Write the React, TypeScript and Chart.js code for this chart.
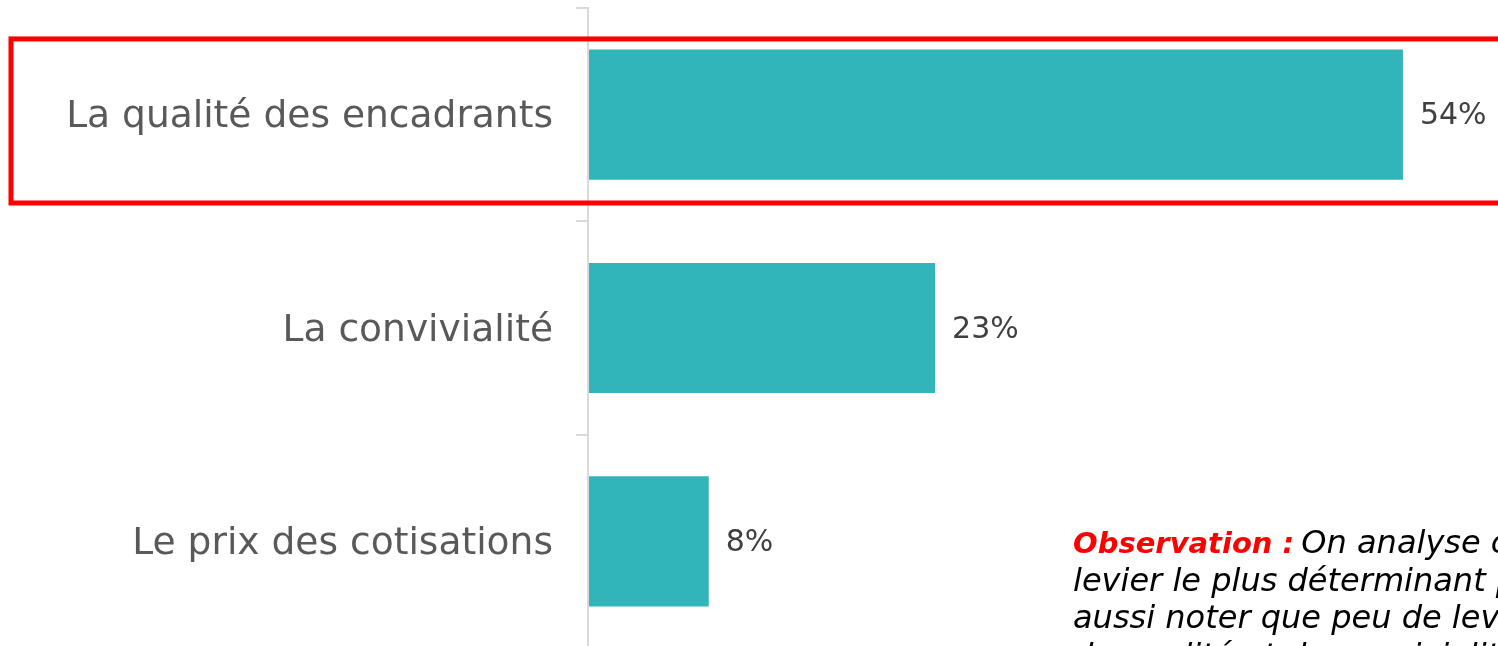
import React, { useEffect, useRef } from "react";
import { Chart, registerables } from "chart.js";

Chart.register(...registerables);

const categories = ["La qualité des encadrants", "La convivialité", "Le prix des cotisations"];
const values = [54, 23, 8];
const valueLabels = ["54%", "23%", "8%"];
const observationTitle = "Observation :";
const observationLines = [
  " On analyse clairement que la qualité des encadrants est le",
  "levier le plus déterminant pour le choix d'un club. On peut",
  "aussi noter que peu de leviers sont cités en dehors de",
  "de qualité et de convivialité.",
];

const FONT = "'DejaVu Sans', sans-serif";
const BAR_COLOR = "#32B4BB";

const valueLabelPlugin = {
  id: "valueLabels",
  afterDatasetsDraw(chart: any) {
    const ctx = chart.ctx;
    const meta = chart.getDatasetMeta(0);
    ctx.save();
    ctx.font = `30px ${FONT}`;
    ctx.fillStyle = "#404040";
    ctx.textAlign = "left";
    ctx.textBaseline = "middle";
    meta.data.forEach((bar: any, i: number) => {
      ctx.fillText(valueLabels[i], bar.x + 17, bar.y + 2);
    });
    ctx.restore();
  },
};

const annotationPlugin = {
  id: "annotations",
  afterDraw(chart: any) {
    const ctx = chart.ctx;
    const y = chart.scales.y;
    const c = y.getPixelForValue(0);
    const band = y.getPixelForValue(1) - c;
    const top = c - 0.355 * band;
    const bottom = c + 0.414 * band;
    ctx.save();
    ctx.strokeStyle = "#FF0000";
    ctx.lineWidth = 5;
    ctx.strokeRect(11, top, chart.width + 40, bottom - top);

    // Observation text
    const x0 = 1073;
    const y0 = 553;
    const lh = 37.5;
    ctx.textBaseline = "alphabetic";
    ctx.textAlign = "left";
    ctx.font = `italic bold 29px ${FONT}`;
    ctx.fillStyle = "#FF0000";
    ctx.fillText(observationTitle, x0, y0);
    const tw = ctx.measureText(observationTitle).width;
    ctx.font = `italic 32px ${FONT}`;
    ctx.fillStyle = "#000000";
    ctx.fillText(observationLines[0], x0 + tw - 3, y0);
    for (let i = 1; i < observationLines.length; i++) {
      ctx.fillText(observationLines[i], x0, y0 + lh * i);
    }
    ctx.restore();
  },
};

export default function App() {
  const canvasRef = useRef<HTMLCanvasElement | null>(null);

  useEffect(() => {
    if (!canvasRef.current) return;
    const chart = new Chart(canvasRef.current, {
      type: "bar",
      data: {
        labels: categories,
        datasets: [
          {
            data: values,
            backgroundColor: BAR_COLOR,
            borderWidth: 0,
            barPercentage: 0.61,
            categoryPercentage: 1,
          },
        ],
      },
      options: {
        indexAxis: "y",
        responsive: false,
        animation: false,
        devicePixelRatio: 1,
        layout: { padding: { top: 8, bottom: 2, left: 0, right: 0 } },
        plugins: {
          legend: { display: false },
          tooltip: { enabled: false },
          title: { display: false },
        },
        scales: {
          x: {
            display: false,
            min: 0,
            max: 60.3,
          },
          y: {
            afterFit(scale: any) {
              scale.width = 588;
              scale.paddingTop = 0;
              scale.paddingBottom = 0;
            },
            grid: {
              offset: true,
              drawOnChartArea: false,
              drawTicks: true,
              tickLength: 12,
              color: "#D9D9D9",
              lineWidth: 2,
            },
            border: { display: true, color: "#D9D9D9", width: 2, z: 1 },
            ticks: {
              font: { family: FONT, size: 37.6 },
              color: "#595959",
              padding: 23,
              labelOffset: 3,
            },
          },
        },
      },
      plugins: [valueLabelPlugin, annotationPlugin],
    } as any);
    return () => chart.destroy();
  }, []);

  return (
    <div
      style={{
        position: "fixed",
        left: 0,
        top: 0,
        width: 1498,
        height: 646,
        overflow: "hidden",
        background: "#FFFFFF",
      }}
    >
      <canvas ref={canvasRef} width={1498} height={650} style={{ display: "block" }} />
    </div>
  );
}
